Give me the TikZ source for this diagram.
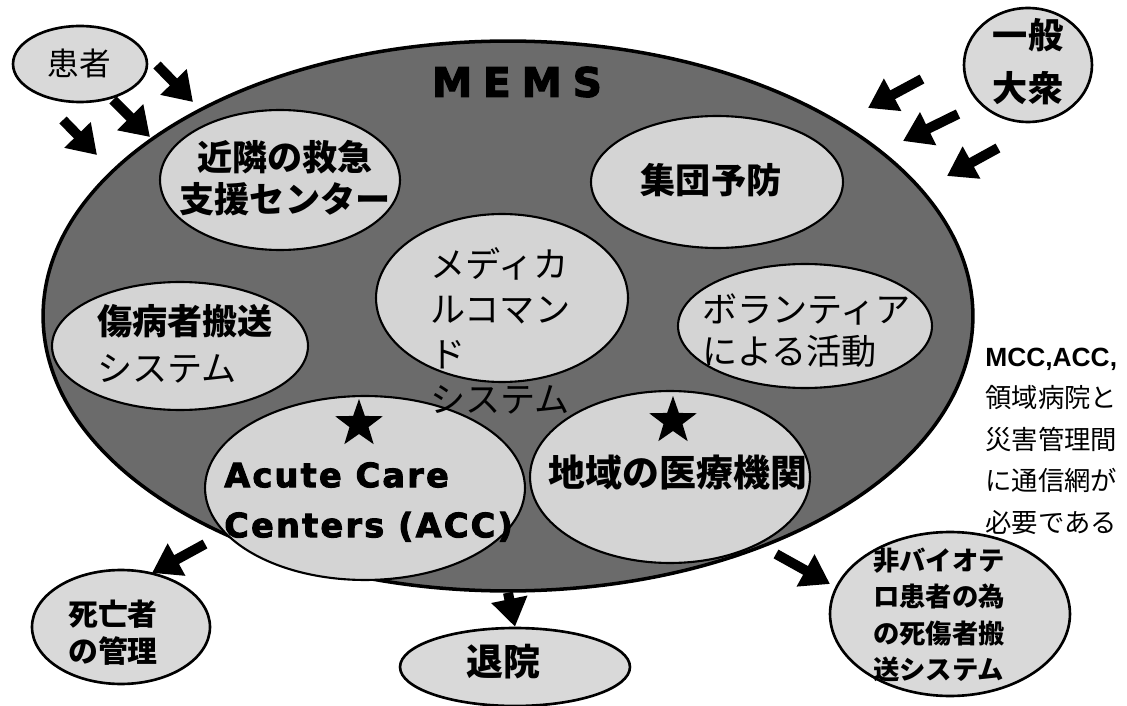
\documentclass[tikz,border=0pt]{standalone}
\usepackage{fontspec}
\setmainfont{Liberation Sans}
\newfontfamily\jp{Noto Sans CJK JP}
\newfontfamily\heavy{DejaVu Sans}[BoldFeatures={FakeBold=3,LetterSpace=7}]
\newfontfamily\memsfont{DejaVu Sans}[BoldFeatures={FakeBold=3,LetterSpace=27}]
\usetikzlibrary{shapes.geometric,arrows.meta}
\tikzset{
  bigell/.style={ellipse,draw=black,line width=2pt,fill=black!58,inner sep=0pt},
  inell/.style={ellipse,draw=black,line width=1.2pt,fill=black!17,inner sep=0pt},
  outell/.style={ellipse,draw=black,line width=1.5pt,fill=black!15,inner sep=0pt},
  blk/.style={-{Triangle[length=0.56cm,width=0.7cm]},line width=0.2cm,black},
  jt/.style={inner sep=0pt,align=left,font=\jp\bfseries\fontsize{20pt}{24pt}\selectfont},
  jtr/.style={inner sep=0pt,align=left,font=\jp\fontsize{20pt}{24pt}\selectfont},
  starmark/.style={star,star points=5,star point ratio=2.5,fill=black,minimum size=1cm,inner sep=0pt}
}
\begin{document}
\begin{tikzpicture}[x=0.02cm,y=-0.02cm]
\fill[white] (0,0) rectangle (1127,706);
\useasboundingbox (0,0) rectangle (1127,706);
% big ellipse
\node[bigell,minimum width=18.6cm,minimum height=11cm] (mems) at (508,316) {};
% inner ellipses
\node[inell,minimum width=4.8cm,minimum height=2.8cm] (near) at (280,180) {};
\node[inell,minimum width=5.04cm,minimum height=2.64cm] (prev) at (717,182) {};
\node[inell,minimum width=5.04cm,minimum height=3.36cm] (mcs) at (502,298) {};
\node[inell,minimum width=5.08cm,minimum height=2.48cm] (vol) at (805,326) {};
\node[inell,minimum width=5.12cm,minimum height=2.56cm] (trans) at (180,346) {};
\node[inell,minimum width=6.4cm,minimum height=3.68cm] (acc) at (365,488) {};
\node[inell,minimum width=5.6cm,minimum height=3.44cm] (loc) at (670,477) {};
% outer ellipses
\node[outell,minimum width=2.68cm,minimum height=1.52cm] (pat) at (80,64) {};
\node[outell,minimum width=2.56cm,minimum height=2.28cm] (pub) at (1028,65) {};
\node[outell,minimum width=3.56cm,minimum height=2.28cm] (dead) at (121,627) {};
\node[outell,minimum width=4.6cm,minimum height=1.56cm] (disc) at (515,667) {};
\node[outell,minimum width=4.8cm,minimum height=3.28cm] (nonbio) at (950,614) {};
% texts
\node[inner sep=0pt,font=\memsfont\bfseries\fontsize{23pt}{28pt}\selectfont] (memst) at (517,82) {MEMS};
\node[jt,align=center] (neart) at (285,178) {近隣の救急\\支援センター};
\node[jt] (prevt) at (711,180) {集団予防};
\node[jtr,anchor=west,font=\jp\fontsize{20pt}{25.6pt}\selectfont] (mcst) at (430,331) {メディカ\\ルコマン\\ド\\システム};
\node[jtr,anchor=west,font=\jp\fontsize{20pt}{24pt}\selectfont] (volt) at (702,331) {ボランティア\\による活動};
\node[jtr,anchor=west,font=\jp\fontsize{20pt}{26.7pt}\selectfont] (transt) at (97,344) {{\bfseries 傷病者搬送}\\システム};
\node[inner sep=0pt,anchor=west,align=left,font=\heavy\bfseries\fontsize{19pt}{28.5pt}\selectfont] (acct) at (224,502) {Acute Care\\Centers (ACC)};
\node[jt,font=\jp\bfseries\fontsize{21pt}{25pt}\selectfont] (loct) at (678,472) {地域の医療機関};
\node[starmark] (star1) at (359,424) {};
\node[starmark] (star2) at (673,421) {};
\node[jtr,font=\jp\fontsize{18pt}{22pt}\selectfont] (patt) at (79,63) {患者};
\node[jt,align=center,font=\jp\bfseries\fontsize{20pt}{30pt}\selectfont] (pubt) at (1028,62) {一般\\大衆};
\node[jt,align=center,font=\jp\bfseries\fontsize{17pt}{21pt}\selectfont] (deadt) at (113,633) {死亡者\\の管理};
\node[jt,font=\jp\bfseries\fontsize{21pt}{25pt}\selectfont] (disct) at (503,662) {退院};
\node[jt,font=\jp\bfseries\fontsize{15pt}{20.8pt}\selectfont] (nonbiot) at (939,615) {非バイオテ\\ロ患者の為\\の死傷者搬\\送システム};
\node[jtr,anchor=west,font=\jp\fontsize{15pt}{23.6pt}\selectfont] (note) at (985,441) {{\rmfamily\bfseries MCC,ACC,}\\領域病院と\\災害管理間\\に通信網が\\必要である};
% arrow end points
\coordinate (p1s) at (63,120);  \coordinate (p1e) at (97,155);
\coordinate (p2s) at (113,100); \coordinate (p2e) at (150,137);
\coordinate (p3s) at (157,65);  \coordinate (p3e) at (193,102);
\coordinate (g1s) at (922,79);  \coordinate (g1e) at (868,108);
\coordinate (g2s) at (958,114); \coordinate (g2e) at (903,141);
\coordinate (g3s) at (998,148); \coordinate (g3e) at (947,176);
\coordinate (ds) at (205,544);  \coordinate (de) at (152,573);
\coordinate (ns) at (776,554);  \coordinate (ne) at (830,584);
\draw[blk] (p1s) -- (p1e);
\draw[blk] (p2s) -- (p2e);
\draw[blk] (p3s) -- (p3e);
\draw[blk] (g1s) -- (g1e);
\draw[blk] (g2s) -- (g2e);
\draw[blk] (g3s) -- (g3e);
\draw[blk] (ds) -- (de);
\draw[blk] (mems.south) -- (disc.north);
\draw[blk] (ns) -- (ne);
\end{tikzpicture}
\end{document}
